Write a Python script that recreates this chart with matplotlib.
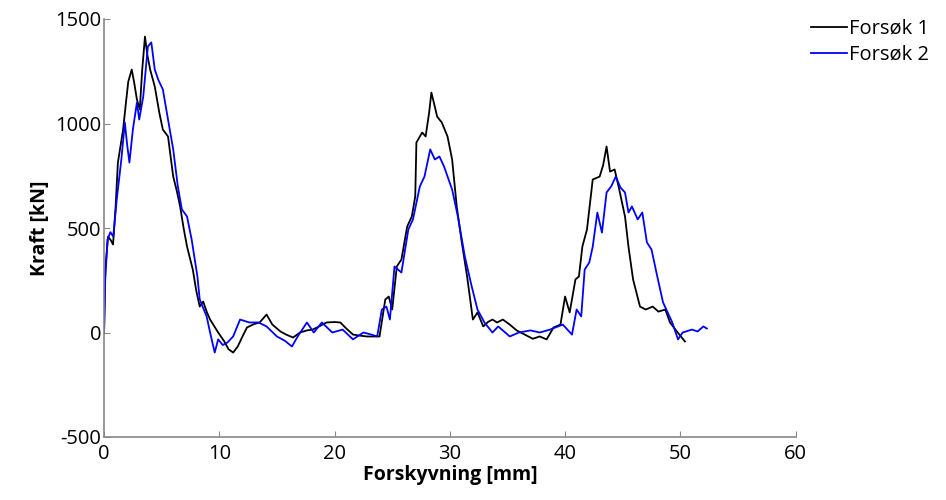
import matplotlib
matplotlib.use("Agg")
import matplotlib.pyplot as plt

plt.rcParams['font.family'] = ['Open Sans', 'DejaVu Sans']
plt.rcParams['axes.unicode_minus'] = False

# Forsøk 1 (displacement mm, force kN)
x1 = [0.0, 0.1, 0.35, 0.6, 0.78, 1.0, 1.2, 1.45, 1.65, 1.9, 2.1, 2.4, 2.6, 2.85, 3.1, 3.3, 3.55,
      3.75, 4.0, 4.4, 4.8, 5.1, 5.55, 6.0, 6.3, 6.6, 6.9, 7.2, 7.7, 8.0, 8.3, 8.6, 8.9, 9.2, 9.9,
      10.4, 10.8, 11.2, 11.6, 12.0, 12.4, 13.0, 13.5, 14.1, 14.6, 15.3, 15.8, 16.4, 17.0, 17.6,
      18.1, 18.7, 19.3, 20.0, 20.5, 21.0, 21.6, 22.2, 22.8, 23.4, 23.9, 24.4, 24.7, 25.0, 25.4,
      25.8, 26.3, 26.7, 27.0, 27.1, 27.6, 27.9, 28.2, 28.4, 28.7, 28.9, 29.3, 29.8, 30.2, 30.6,
      31.0, 31.5, 32.0, 32.4, 32.9, 33.3, 33.7, 34.1, 34.6, 35.2, 35.8, 36.5, 37.2, 37.8, 38.4,
      39.0, 39.6, 40.0, 40.4, 40.9, 41.2, 41.5, 41.9, 42.4, 43.0, 43.3, 43.6, 43.9, 44.3, 44.7,
      45.2, 45.5, 45.9, 46.5, 47.0, 47.6, 48.1, 48.7, 49.1, 49.7, 50.4]
y1 = [0, 300, 459, 440, 421, 600, 813, 900, 971, 1100, 1200, 1258, 1200, 1115, 1067, 1250, 1416,
      1330, 1258, 1177, 1050, 971, 938, 746, 680, 603, 500, 411, 301, 200, 124, 148, 100, 62, 0,
      -40, -80, -96, -67, -20, 24, 40, 48, 86, 38, 5, -10, -24, 0, 10, 14, 30, 48, 50, 48, 20,
      -10, -15, -19, -19, -19, 158, 172, 110, 316, 349, 507, 555, 651, 909, 957, 938, 1050, 1148,
      1080, 1033, 1005, 938, 828, 603, 445, 268, 62, 96, 29, 50, 62, 48, 62, 38, 10, -10, -30,
      -19, -33, 24, 38, 172, 96, 254, 268, 411, 493, 732, 746, 800, 890, 770, 780, 684, 555, 411,
      254, 124, 110, 124, 100, 110, 48, 5, -43]

# Forsøk 2 (displacement mm, force kN)
x2 = [0.0, 0.1, 0.3, 0.55, 0.8, 1.1, 1.5, 1.8, 2.0, 2.2, 2.5, 2.85, 3.05, 3.4, 3.8, 4.1, 4.4,
      4.7, 5.1, 5.55, 6.0, 6.4, 6.75, 7.2, 7.6, 8.1, 8.3, 8.9, 9.2, 9.6, 9.9, 10.3, 10.7, 11.2,
      11.8, 12.6, 13.4, 14.1, 15.0, 15.7, 16.3, 16.8, 17.6, 18.2, 18.9, 19.8, 20.7, 21.6, 22.5,
      23.2, 23.7, 24.1, 24.5, 24.8, 25.2, 25.8, 26.4, 26.8, 27.4, 27.8, 28.3, 28.7, 29.1, 29.5,
      30.2, 30.7, 31.3, 31.9, 32.4, 33.0, 33.7, 34.2, 35.2, 36.0, 37.0, 37.8, 38.7, 39.8, 40.6,
      41.0, 41.4, 41.7, 42.1, 42.4, 42.8, 43.2, 43.6, 44.0, 44.4, 44.8, 45.2, 45.5, 45.8, 46.3,
      46.7, 47.1, 47.5, 48.0, 48.5, 49.3, 49.8, 50.2, 51.0, 51.5, 52.0, 52.3]
y2 = [0, 250, 445, 480, 459, 636, 828, 1005, 900, 813, 971, 1100, 1019, 1129, 1368, 1388, 1258,
      1210, 1163, 1019, 876, 699, 589, 555, 445, 268, 158, 77, 0, -96, -33, -60, -48, -19, 62, 48,
      48, 29, -19, -40, -67, -19, 48, 0, 48, 0, 14, -33, 0, -10, -19, 110, 124, 62, 316, 287, 493,
      541, 699, 746, 876, 828, 842, 794, 684, 555, 364, 220, 110, 48, 0, 29, -19, 0, 10, 0, 14,
      38, -10, 110, 77, 301, 335, 411, 574, 478, 670, 699, 746, 694, 670, 574, 603, 541, 574, 431,
      397, 268, 144, 48, -33, 0, 14, 5, 29, 19]

xticks = [0, 10, 20, 30, 40, 50, 60]
yticks = [-500, 0, 500, 1000, 1500]

fig = plt.figure(figsize=(9.46, 5.0), dpi=100)
ax = fig.add_axes([0.110, 0.126, 0.731, 0.836])

ax.plot(x1, y1, color='black', lw=1.3, label='Forsøk 1')
ax.plot(x2, y2, color='#0000ff', lw=1.3, label='Forsøk 2')

ax.set_xlim(0, 60)
ax.set_ylim(-500, 1500)
ax.set_xticks(xticks)
ax.set_yticks(yticks)
ax.tick_params(direction='in', length=4, color='#888888', labelsize=14.5)
ax.tick_params(axis='y', pad=2)
ax.tick_params(axis='x', pad=5)

for side in ('top', 'right'):
    ax.spines[side].set_visible(False)
for side in ('left', 'bottom'):
    ax.spines[side].set_color('#888888')
    ax.spines[side].set_linewidth(1.2)

ax.set_xlabel('Forskyvning [mm]', fontsize=14, fontweight='bold', labelpad=1)
ax.set_ylabel('Kraft [kN]', fontsize=14, fontweight='bold', labelpad=4)

ax.legend(loc='upper left', bbox_to_anchor=(1.01, 1.02), frameon=False, fontsize=14.5,
          handlelength=1.8, handletextpad=0.1, labelspacing=0.3, borderaxespad=0)

fig.savefig('out.png', dpi=100)
